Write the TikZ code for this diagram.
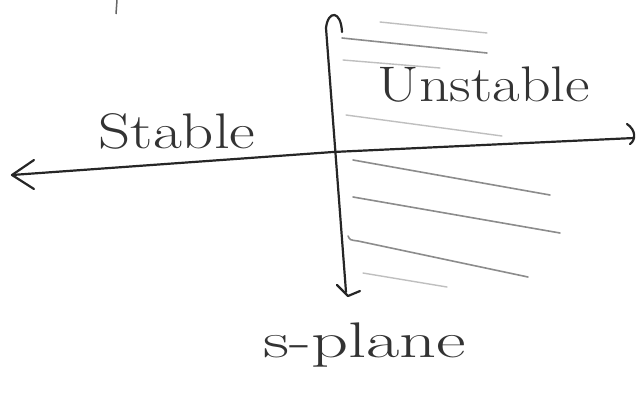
\documentclass[tikz,border=0pt]{standalone}
\usetikzlibrary{calc}
\begin{document}
\begin{tikzpicture}[x=1pt,y=-1pt,
  axis/.style={draw=black!85,line width=2.2pt,line cap=round,line join=round},
  hatch/.style={draw=black!45,line width=1.6pt,line cap=round},
  hatchlt/.style={draw=black!25,line width=1.4pt,line cap=round},
  hand/.style={text=black!80,font=\fontsize{50}{56}\selectfont,inner sep=0pt}]
\useasboundingbox (0,0) rectangle (638,394);
\fill[white] (0,0) rectangle (638,394);
% axis points
\coordinate (L) at (12,175);
\coordinate (O) at (333,152);
\coordinate (R) at (634,138);
\coordinate (T) at (326,28);
\coordinate (B) at (346,292);
% horizontal axis
\draw[axis] (L) -- (O) -- (R);
\draw[axis] ($(L)+(22,-15)$) -- (L) -- ($(L)+(22,14)$);
\draw[axis] ($(R)+(-7,-14)$) .. controls ($(R)+(2,-8)$) and ($(R)+(2,2)$) .. ($(R)+(-4,6)$);
% vertical axis
\draw[axis] (T) -- (B);
\draw[axis] (T) .. controls ($(T)+(2,-18)$) and ($(T)+(15,-18)$) .. ($(T)+(16,4)$);
\draw[axis] ($(B)+(-9,-7)$) -- ($(B)+(2,4)$) -- ($(B)+(14,-1)$);
% hatching
\draw[hatchlt] (380,22) -- (487,33);
\draw[hatch] (342,38) -- (487,53);
\draw[hatchlt] (343,60) -- (440,68);
\draw[hatchlt] (346,115) -- (502,136);
\draw[hatch] (353,160) -- (550,195);
\draw[hatch] (353,197) -- (560,233);
\draw[hatch] (348,236) .. controls (350,240) .. (358,241) -- (528,277);
\draw[hatchlt] (363,273) -- (447,287);
% stray mark
\draw[draw=black!60,line width=1.5pt] (117,0) -- (116,14);
% labels
\node[hand,anchor=base] (st) at (177,148) {\scalebox{1.26}[1]{Stable}};
\node[hand,anchor=base] (un) at (484,101) {\scalebox{1.2}[1]{Unstable}};
\node[hand,anchor=base] (sp) at (365,357) {\scalebox{1.45}[1]{s-plane}};
\end{tikzpicture}
\end{document}
